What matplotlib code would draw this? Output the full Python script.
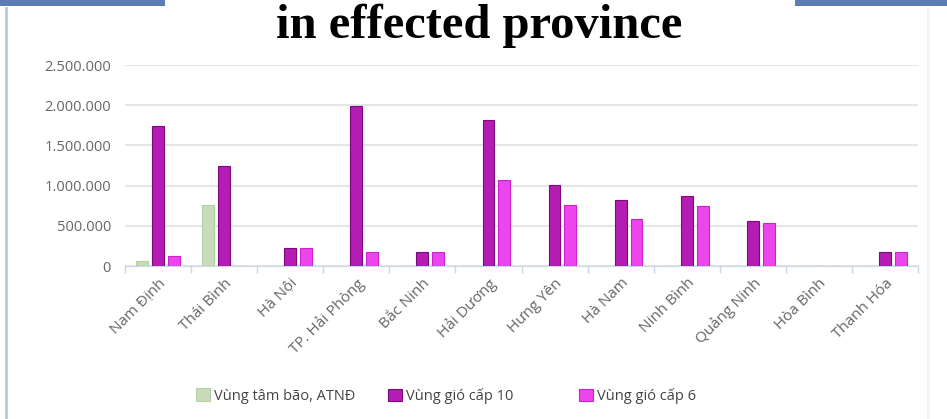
import numpy as np
import matplotlib.pyplot as plt
import matplotlib.patches as mpatches
from matplotlib.lines import Line2D

# provinces and the three wind zones (households / people affected)
provinces = ["Nam Định", "Thái Bình", "Hà Nội", "TP. Hải Phòng", "Bắc Ninh",
             "Hải Dương", "Hưng Yên", "Hà Nam", "Ninh Bình", "Quảng Ninh",
             "Hòa Bình", "Thanh Hóa"]
tam_bao = [65000, 755000, 0, 0, 0, 0, 0, 0, 0, 0, 0, 0]
gio_cap10 = [1740000, 1250000, 225000, 1990000, 175000, 1820000,
             1005000, 820000, 865000, 560000, 0, 180000]
gio_cap6 = [130000, 0, 225000, 180000, 175000, 1075000,
            755000, 580000, 750000, 540000, 0, 180000]
series_names = ["Vùng tâm bão, ATNĐ", "Vùng gió cấp 10", "Vùng gió cấp 6"]
yticks = [0, 500000, 1000000, 1500000, 2000000, 2500000]

plt.rcParams['font.family'] = ['Open Sans', 'DejaVu Sans']

W, H = 947, 419
fig = plt.figure(figsize=(W / 100, H / 100), dpi=100)
fig.patch.set_facecolor('white')

# slide decorations: blue header bars and left frame line
fig.add_artist(mpatches.Rectangle((0, 1 - 6 / H), 165 / W, 6 / H, transform=fig.transFigure,
                                  color='#5b7db4', lw=0))
fig.add_artist(mpatches.Rectangle((795 / W, 1 - 6 / H), 152 / W, 6 / H, transform=fig.transFigure,
                                  color='#5b7db4', lw=0))
fig.add_artist(Line2D([6 / W, 6 / W], [0, 1 - 8 / H], transform=fig.transFigure,
                      color='#b9c9d3', lw=2))
fig.add_artist(Line2D([928 / W, 928 / W], [0, 1 - 8 / H], transform=fig.transFigure,
                      color='#f2f4f6', lw=2))

fig.text(479 / W, 1 - 38 / H, "in effected province", ha='center', va='baseline',
         fontsize=35, fontweight='bold', family='Liberation Serif', color='black')

ax = fig.add_axes([125 / W, (H - 266) / H, (918 - 125) / W, 201 / H])
x = np.arange(len(provinces))
w = 0.18
off = 0.24
b0 = ax.bar(x - off, tam_bao, w, color='#c8dcbb', edgecolor='#b6cfa6', lw=0.8,
            label=series_names[0], zorder=3)
b1 = ax.bar(x, gio_cap10, w, color='#b41cb4', edgecolor='#7d0a7d', lw=0.8,
            label=series_names[1], zorder=3)
b2 = ax.bar(x + off, gio_cap6, w, color='#ec45ec', edgecolor='#cc22cc', lw=0.8,
            label=series_names[2], zorder=3)

ax.set_xlim(-0.5, len(provinces) - 0.5)
ax.set_ylim(0, 2500000)
ax.set_yticks(yticks)
ax.set_yticklabels([f"{v:,}".replace(",", ".") for v in yticks])
ax.yaxis.grid(True, color='#e6e6e6', lw=1.5, zorder=0)
ax.set_axisbelow(True)

ax.set_xticks(x)
ax.set_xticklabels(provinces, rotation=45, ha='right', rotation_mode='anchor')
ax.set_xticks(np.arange(-0.5, len(provinces)), minor=True)
ax.tick_params(axis='x', which='major', length=0, pad=7, labelsize=11, labelcolor='#666666')
ax.tick_params(axis='x', which='minor', length=5, color='#ccd6eb', width=1)
ax.tick_params(axis='y', length=0, pad=10, labelsize=10.5, labelcolor='#666666')

for s in ['top', 'right', 'left']:
    ax.spines[s].set_visible(False)
ax.spines['bottom'].set_color('#ccd6eb')

# legend items placed one by one (uneven spacing in the original)
for bars, name, xpos in zip([b0, b1, b2], series_names, [196, 388, 579]):
    fig.legend([bars], [name], loc='center left', bbox_to_anchor=(xpos / W, 1 - 396 / H),
               frameon=False, fontsize=10.5, labelcolor='#444444', handlelength=0.95,
               handleheight=0.95, handletextpad=0.3, borderpad=0, borderaxespad=0)

fig.savefig('out.png', dpi=100)
